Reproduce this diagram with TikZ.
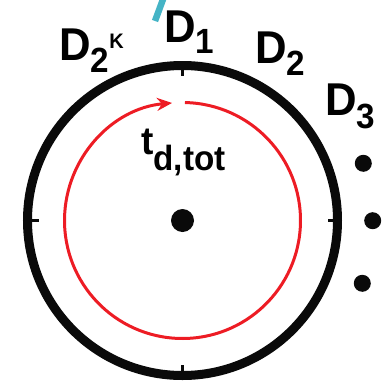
\documentclass[tikz,border=0pt]{standalone}
\usepackage{fontspec}
\setmainfont{Liberation Sans}
\usetikzlibrary{arrows.meta,calc}
\definecolor{ringblack}{HTML}{0A0A0A}
\definecolor{ringred}{HTML}{ED1C24}
\definecolor{tealmark}{HTML}{45B4C6}
\newcommand\mysub[2]{\raisebox{-#1pt}{\fontsize{35}{35}\selectfont #2}}
\begin{document}
\begin{tikzpicture}[x=1pt,y=1pt,
  lab/.style={inner sep=0pt, anchor=base west, font=\bfseries\fontsize{46}{46}\selectfont},
  ring/.style={draw=ringblack, line width=9pt},
  tick/.style={draw=ringblack, line width=2.5pt},
  dot/.style={circle, fill=ringblack, inner sep=0pt, minimum size=#1},
  redring/.style={draw=ringred, line width=3pt}]
\useasboundingbox (0,0) rectangle (386,-384);
\clip (0,0) rectangle (386,-384);
\coordinate (c) at (182.5,-220.5);
% black ring
\draw[ring] (c) circle[radius=155];
% ticks
\draw[tick] ($(c)+(0,155)$) -- ($(c)+(0,144.5)$);
\draw[tick] ($(c)+(0,-155)$) -- ($(c)+(0,-144.5)$);
\draw[tick] ($(c)+(-155,0)$) -- ($(c)+(-144,0)$);
\draw[tick] ($(c)+(155,0)$) -- ($(c)+(145,0)$);
% red ring with arrow
\draw[redring, -{Stealth[length=15pt,width=13pt]}] ($(c)+(88.8:118)$) arc[start angle=88.8, end angle=-264.9, radius=118];
% dots
\node[dot=23pt] (center) at (c) {};
\node[dot=17pt] (d1) at (363.3,-163.3) {};
\node[dot=17pt] (d2) at (372.7,-220.7) {};
\node[dot=17pt] (d3) at (362.3,-283.3) {};
% teal mark
\draw[tealmark, line width=6.5pt] (155,-21) -- (163.5,2);
% labels
\node[lab] (D1) at (164,-42) {\scalebox{0.95}[1]{D\mysub{11}{1}}};
\node[lab] (D2) at (255,-63) {\scalebox{0.95}[1]{D\mysub{12}{2}}};
\node[lab] (D2K) at (59,-60) {\scalebox{0.95}[1]{D\mysub{12}{2}\raisebox{12pt}{\fontsize{21}{21}\selectfont K}}};
\node[lab] (D3) at (325,-115) {\scalebox{0.95}[1]{D\mysub{13}{3}}};
\node[lab] (ttot) at (141,-154) {\scalebox{0.95}[1]{{\fontsize{39}{39}\selectfont t}\mysub{16}{d,tot}}};
\end{tikzpicture}
\end{document}
